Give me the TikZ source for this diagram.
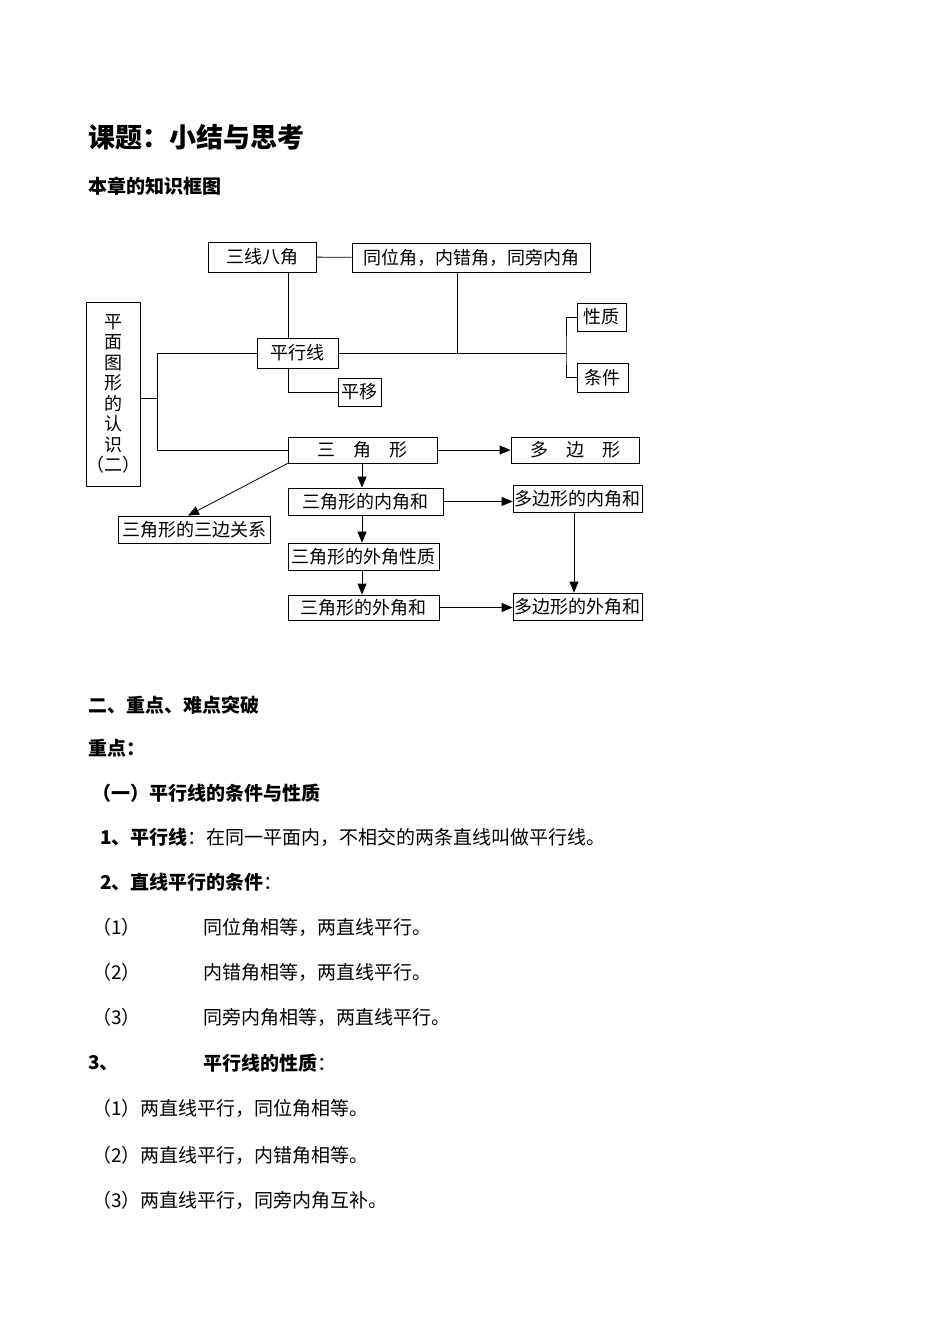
\documentclass[tikz,border=0pt]{standalone}
\usepackage{fontspec}
\setmainfont{Liberation Serif}
\newfontfamily\cjk{Noto Sans CJK SC}
\usetikzlibrary{arrows.meta}
\newcommand{\bx}[6]{\node[box,minimum width={#4-#2},minimum height={#5-#3}] (#1) at ({(#2+#4)/2},{(#3+#5)/2}) {#6};}
\tikzset{
 box/.style={draw,thick,inner sep=0pt,font=\cjk\fontsize{18}{20}\selectfont},
 ln/.style={thick},
 ar/.style={thick,-{Triangle[length=11pt,width=9pt]}},
 txt/.style={anchor=west,inner sep=0pt,font=\cjk\fontsize{19}{22}\selectfont},
 btxt/.style={txt,font=\cjk\bfseries\fontsize{19}{22}\selectfont}
}
\begin{document}
\begin{tikzpicture}[x=1pt,y=-1pt]
\useasboundingbox (0,0) rectangle (950,1342);
\node[btxt,font=\cjk\bfseries\fontsize{27}{30}\selectfont] (title) at (88,137) {课题：小结与思考};
\node[btxt] (t1) at (88,186) {本章的知识框图};
% boxes
\bx{sx}{208}{242}{316}{272}{三线八角}
\bx{tw}{352}{243}{590}{272}{同位角，内错角，同旁内角}
\node[box,minimum width=50,minimum height=184,align=center,font=\cjk\fontsize{18}{20.5}\selectfont] (pm) at (113,394) {平\\面\\图\\形\\的\\认\\识\\（二）};
\bx{px}{257}{338}{338}{368}{平行线}
\bx{py}{338}{378}{381}{406}{平移}
\bx{xz}{577}{303}{626}{331}{性质}
\bx{tj}{577}{363}{628}{392}{条件}
\bx{sj}{288}{437}{437}{463}{三\quad 角\quad 形}
\bx{db}{511}{437}{639}{463}{多\quad 边\quad 形}
\bx{sn}{288}{488}{443}{515}{三角形的内角和}
\bx{dn}{513}{485}{642}{512}{多边形的内角和}
\bx{sb}{118}{516}{270}{543}{三角形的三边关系}
\bx{sx2}{288}{543}{439}{570}{三角形的外角性质}
\bx{sw}{288}{595}{439}{620}{三角形的外角和}
\bx{dw}{513}{593}{642}{620}{多边形的外角和}
% connectors
\draw[ln] (sx) -- (tw);
\draw[ln] (sx.south -| 288,0) -- (px.north -| 288,0);
\draw[ln] (px.south -| 288,0) |- (py.west);
\coordinate (j1) at (566,353);
\draw[ln] (px.east) -- (j1);
\draw[ln] (tw.south -| 457,0) -- (457,353);
\draw[ln] (xz.west) -| (j1) |- (tj.west);
\coordinate (j2) at (157,398);
\draw[ln] (pm.east |- j2) -- (j2);
\draw[ln] (px.west) -| (157,450) |- (sj.west);
\draw[ar] (sj) -- (db);
\draw[ar] (sj.south -| 362,0) -- (sn.north -| 362,0);
\draw[ar] (sn.south -| 362,0) -- (sx2.north -| 362,0);
\draw[ar] (sx2.south -| 362,0) -- (sw.north -| 362,0);
\draw[ar] (sn) -- (sn -| dn.west);
\draw[ar] (sw) -- (sw -| dw.west);
\draw[ar] (dn.south -| 574,0) -- (dw.north -| 574,0);
\draw[ar] (sj.south west) -- (sb.north -| 188,0);
% text
\node[btxt] (h2) at (88,705) {二、重点、难点突破};
\node[btxt] (h3) at (88,748) {重点：};
\node[btxt] (h4) at (92,793) {（一）平行线的条件与性质};
\node[txt] (p1) at (100,837) {\textbf{1}{\bfseries、平行线}：在同一平面内，不相交的两条直线叫做平行线。};
\node[txt] (p2) at (100,882) {\textbf{2}{\bfseries、直线平行的条件}：};
\node[txt] (a1) at (92,927) {（1）};
\node[txt] (b1) at (203,927) {同位角相等，两直线平行。};
\node[txt] (a2) at (92,972) {（2）};
\node[txt] (b2) at (203,972) {内错角相等，两直线平行。};
\node[txt] (a3) at (92,1017) {（3）};
\node[txt] (b3) at (203,1017) {同旁内角相等，两直线平行。};
\node[txt] (p3) at (88,1063) {\textbf{3}{\bfseries、}};
\node[txt] (p3b) at (203,1063) {{\bfseries 平行线的性质}：};
\node[txt] (c1) at (92,1108) {（1）两直线平行，同位角相等。};
\node[txt] (c2) at (92,1155) {（2）两直线平行，内错角相等。};
\node[txt] (c3) at (92,1200) {（3）两直线平行，同旁内角互补。};
\end{tikzpicture}
\end{document}
